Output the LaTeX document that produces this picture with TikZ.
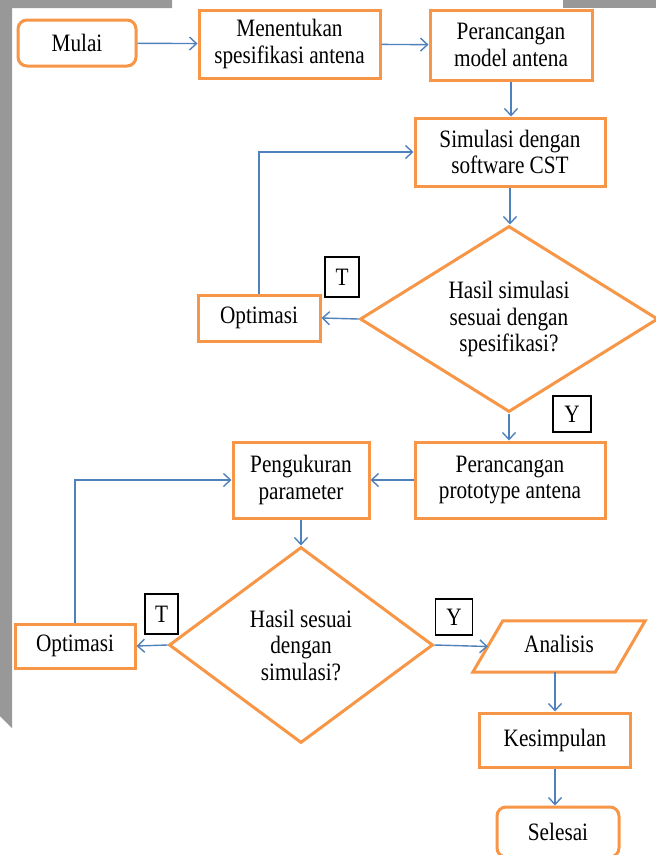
\documentclass[tikz,border=0pt]{standalone}
\usepackage{fontspec}
\setmainfont[FakeStretch=0.85]{Liberation Serif}
\usetikzlibrary{shapes.geometric,arrows.meta}
\definecolor{orng}{RGB}{247,150,70}
\definecolor{lblue}{RGB}{79,129,189}
\definecolor{scan}{RGB}{152,152,152}
\begin{document}
\begin{tikzpicture}[x=1pt,y=-1pt,
  every node/.style={font=\fontsize{25}{26.5}\selectfont, align=center, inner sep=0pt, text=black},
  proc/.style={draw=orng, line width=3pt, fill=white},
  term/.style={proc, rounded corners=9pt},
  dec/.style={proc, diamond},
  outline/.style={draw=orng, line width=3pt, fill=white, line join=miter},
  lab/.style={draw=black, line width=1.2pt, fill=white},
  arr/.style={draw=lblue, line width=1.4pt, -{Straight Barb[length=7pt,width=13pt,line width=1.4pt]}}]
\useasboundingbox (0,0) rectangle (656,855);
\fill[white] (0,0) rectangle (656,855);
\fill[scan] (0,0) -- (172,0) -- (172,8) -- (12,8) -- (12,728) -- (0,716) -- cycle;
\fill[scan] (563,0) -- (656,0) -- (656,8) -- (563,8) -- cycle;

\node[term, minimum width=118, minimum height=46] (mulai) at (77,43) {Mulai};
\node[proc, minimum width=181, minimum height=68] (spek) at (289.5,44) {Menentukan\\spesifikasi antena};
\node[proc, minimum width=162, minimum height=70] (model) at (511,45) {Perancangan\\model antena};
\node[proc, minimum width=190, minimum height=68] (sim) at (510,152) {Simulasi dengan\\software CST};
\node[dec, shape aspect=1.6, minimum width=298, minimum height=186] (cek1) at (509,319) {Hasil simulasi\\sesuai dengan\\spesifikasi?};
\node[proc, minimum width=122, minimum height=46] (opt1) at (259,318) {Optimasi};
\node[lab, minimum width=34, minimum height=40] (t1) at (342,277) {T};
\node[lab, minimum width=38, minimum height=36] (y1) at (572,414) {Y};
\node[proc, minimum width=190, minimum height=76] (proto) at (510,480) {Perancangan\\prototype antena};
\node[proc, minimum width=136, minimum height=76] (ukur) at (301,480) {Pengukuran\\parameter};
\node[dec, shape aspect=1.35, minimum width=264, minimum height=196] (cek2) at (301,645) {Hasil sesuai\\dengan\\simulasi?};
\node[proc, minimum width=120, minimum height=44] (opt2) at (75,646) {Optimasi};
\node[lab, minimum width=33, minimum height=40] (t2) at (161.5,614) {T};
\node[lab, minimum width=37, minimum height=36] (y2) at (454,617) {Y};
% parallelogram: outline drawn from the node's corners
\node[minimum width=172, minimum height=51] (anal) at (559,646.5) {};
\draw[outline] (anal.south west) -- ([xshift=30pt]anal.north west) -- (anal.north east) -- ([xshift=-30pt]anal.south east) -- cycle;
\node at ([yshift=3pt]anal.center) {Analisis};
\coordinate (analin) at ([xshift=15pt]anal.west);
\node[proc, minimum width=151, minimum height=54] (simpul) at (555,740) {Kesimpulan};
\node[term, minimum width=122, minimum height=50] (selesai) at (558,832) {Selesai};

\draw[arr] (mulai) -- (spek);
\draw[arr] (spek) -- (model);
\draw[arr] (model.south) -- (model.south |- sim.north);
\draw[arr] (sim.south) -- (sim.south |- cek1.north);
\draw[arr] (cek1.west) -- (opt1.east);
\draw[arr] (opt1.north) |- (sim.west);
\draw[arr] (cek1.south) -- (cek1.south |- proto.north);
\draw[arr] (proto.west) -- (ukur.east);
\draw[arr] (ukur.south) -- (cek2.north);
\draw[arr] (cek2.west) -- (opt2.east);
\draw[arr] (opt2.north) |- (ukur.west);
\draw[arr] (cek2.east) -- (analin);
\draw[arr] (simpul.north |- anal.south) -- (simpul.north);
\draw[arr] (simpul.south) -- (simpul.south |- selesai.north);
\end{tikzpicture}
\end{document}
